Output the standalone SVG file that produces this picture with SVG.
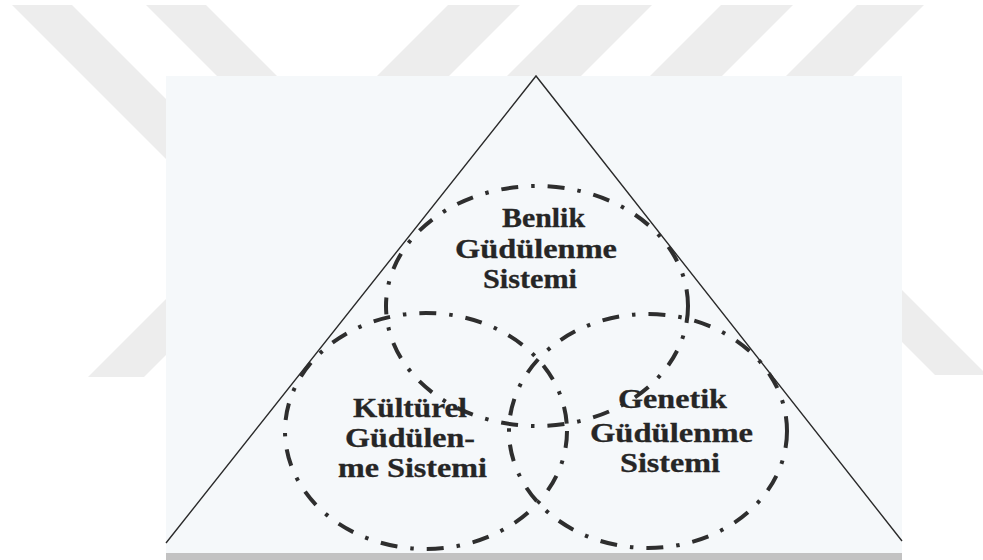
<svg xmlns="http://www.w3.org/2000/svg" width="983" height="560" viewBox="0 0 983 560">
<defs>
<style>
.wm{fill:#ededed}
.sys{fill:none;stroke:#2e2e2e;stroke-width:4;stroke-dasharray:17 13 3.5 13}
.lbl{font-family:"Liberation Serif","Times New Roman",serif;font-weight:bold;font-size:28px;fill:#262626;stroke:#262626;stroke-width:0.3}
.tri{fill:none;stroke:#2a2a2a;stroke-width:1.4}
</style>
</defs>
<rect x="0" y="0" width="983" height="560" fill="#ffffff"/>
<g id="watermark">
<polygon class="wm" points="12,5 72,5 240,173 240,233"/>
<polygon class="wm" points="146,5 206,5 310,109 250,109"/>
<polygon class="wm" points="448,5 520,5 420,105 348,105"/>
<polygon class="wm" points="578,5 652,5 552,105 478,105"/>
<polygon class="wm" points="721,5 793,5 693,105 621,105"/>
<polygon class="wm" points="857,5 924,5 824,105 757,105"/>
<polygon class="wm" points="88,377 144,377 250,271 250,215"/>
<polygon class="wm" points="800,188 987,375 935,375 800,240"/>
</g>
<rect x="166" y="76" width="736" height="480" fill="#f5f8fa"/>
<rect x="166" y="553" width="736" height="7" fill="#c2c2c2"/>
<polyline class="tri" points="166,543 536,76 902,541"/>
<g id="benlik">
<ellipse class="sys" cx="537" cy="306" rx="151" ry="120"/>
<text class="lbl" x="502" y="227" textLength="83" lengthAdjust="spacingAndGlyphs">Benlik</text>
<text class="lbl" x="455" y="258" textLength="162" lengthAdjust="spacingAndGlyphs">Güdülenme</text>
<text class="lbl" x="483" y="288" textLength="94" lengthAdjust="spacingAndGlyphs">Sistemi</text>
</g>
<g id="kulturel">
<ellipse class="sys" cx="426" cy="431" rx="141" ry="118"/>
<text class="lbl" x="353" y="417" textLength="114" lengthAdjust="spacingAndGlyphs">Kültürel</text>
<text class="lbl" x="345" y="447" textLength="130" lengthAdjust="spacingAndGlyphs">Güdülen-</text>
<text class="lbl" x="338" y="477" textLength="149" lengthAdjust="spacingAndGlyphs">me Sistemi</text>
</g>
<g id="genetik">
<ellipse class="sys" cx="648" cy="431" rx="139" ry="117"/>
<text class="lbl" x="618" y="408" textLength="109" lengthAdjust="spacingAndGlyphs">Genetik</text>
<text class="lbl" x="590" y="442" textLength="163" lengthAdjust="spacingAndGlyphs">Güdülenme</text>
<text class="lbl" x="620" y="472" textLength="100" lengthAdjust="spacingAndGlyphs">Sistemi</text>
</g>
<g id="connectors"/>
</svg>
